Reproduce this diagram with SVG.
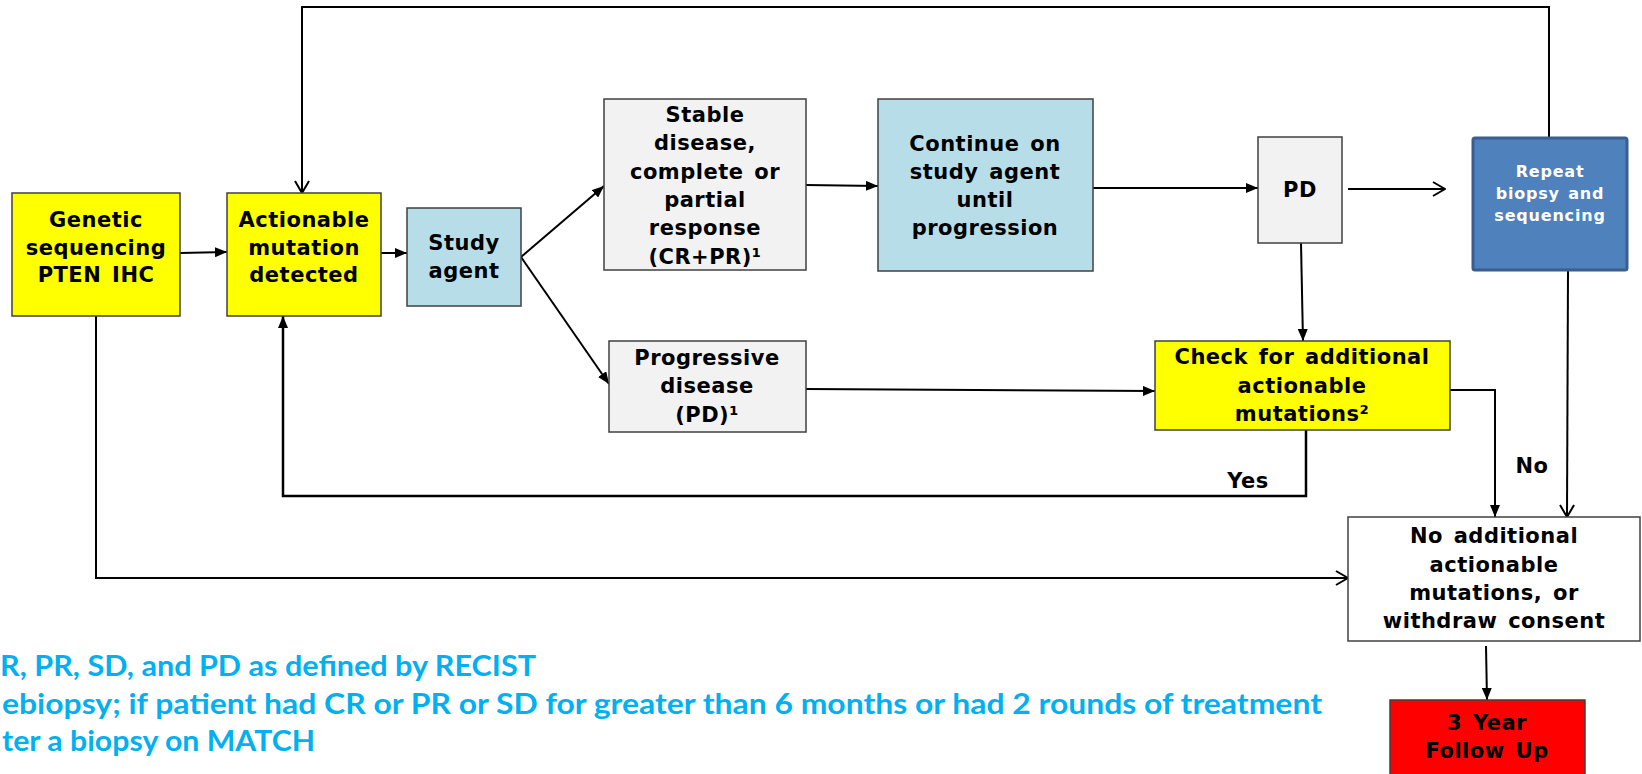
<svg xmlns="http://www.w3.org/2000/svg" width="1642" height="774" viewBox="0 0 1642 774">
<style>
.box{stroke:#404040;stroke-width:1.5}
.y{fill:#FFFF00}.b{fill:#B7DEE8}.g{fill:#F2F2F2}.w{fill:#FFFFFF}.r{fill:#FF0000}
.t{font-family:"DejaVu Sans",Verdana,sans-serif;font-weight:bold;font-size:21px;letter-spacing:0.5px;word-spacing:3px;text-anchor:middle;fill:#000}
.tw{font-family:"DejaVu Sans",Verdana,sans-serif;font-weight:bold;font-size:16px;letter-spacing:0.8px;word-spacing:2px;text-anchor:middle;fill:#FFFFFF}
.c{fill:none;stroke:#000;stroke-width:2}
.fn{font-family:Lato,"Liberation Sans",sans-serif;font-weight:bold;font-size:28px;fill:#00B0F0}
</style>
<defs>
<marker id="fa" viewBox="0 0 12 10" refX="12" refY="5" markerWidth="12" markerHeight="10" markerUnits="userSpaceOnUse" orient="auto"><path d="M0,0 L12,5 L0,10 z" fill="#000"/></marker>
<marker id="oa" viewBox="0 0 14 16" refX="13" refY="8" markerWidth="14" markerHeight="16" markerUnits="userSpaceOnUse" orient="auto"><path d="M1,1 L13,8 L1,15" fill="none" stroke="#000" stroke-width="2"/></marker>
</defs>
<rect width="1642" height="774" fill="#FFFFFF"/>

<g id="connectors">
<path class="c" d="M180,253 L227,252" marker-end="url(#fa)"/>
<path class="c" d="M381,253 L407,253" marker-end="url(#fa)"/>
<path class="c" d="M521,257 L604,186" marker-end="url(#fa)"/>
<path class="c" d="M521,257 L609,384" marker-end="url(#fa)"/>
<path class="c" d="M806,185 L878,186" marker-end="url(#fa)"/>
<path class="c" d="M1093,188 L1258,188" marker-end="url(#fa)"/>
<path class="c" d="M1348,189 L1445,189" marker-end="url(#oa)"/>
<path class="c" d="M1549,137 L1549,7 L302,7 L302,193" marker-end="url(#oa)"/>
<path class="c" d="M1301,243 L1303,341" marker-end="url(#fa)"/>
<path class="c" d="M806,389 L1155,391" marker-end="url(#fa)"/>
<path class="c" d="M1450,390 L1495,390 L1495,517" marker-end="url(#fa)"/>
<path class="c" d="M1568,271 L1567,517" marker-end="url(#oa)"/>
<path class="c" style="stroke-width:2.5" d="M1306,430 L1306,496 L283,496 L283,316" marker-end="url(#fa)"/>
<path class="c" d="M96,316 L96,578 L1348,578" marker-end="url(#oa)"/>
<path class="c" d="M1486,646 L1487,700" marker-end="url(#fa)"/>
<text class="t" x="1248" y="488">Yes</text>
<text class="t" x="1532" y="473">No</text>
</g>

<g id="genetic">
<rect class="box y" x="12" y="193" width="168" height="123"/>
<text class="t" x="96" y="227">Genetic</text>
<text class="t" x="96" y="255">sequencing</text>
<text class="t" x="96" y="282">PTEN IHC</text>
</g>

<g id="actionable">
<rect class="box y" x="227" y="193" width="154" height="123"/>
<text class="t" x="304" y="227">Actionable</text>
<text class="t" x="304" y="255">mutation</text>
<text class="t" x="304" y="282">detected</text>
</g>

<g id="study">
<rect class="box b" x="407" y="208" width="114" height="98"/>
<text class="t" x="464" y="250">Study</text>
<text class="t" x="464" y="278">agent</text>
</g>

<g id="stable">
<rect class="box g" x="604" y="99" width="202" height="171"/>
<text class="t" x="705" y="122">Stable</text>
<text class="t" x="705" y="150">disease,</text>
<text class="t" x="705" y="179">complete or</text>
<text class="t" x="705" y="207">partial</text>
<text class="t" x="705" y="235">response</text>
<text class="t" x="705" y="264">(CR+PR)¹</text>
</g>

<g id="continue">
<rect class="box b" x="878" y="99" width="215" height="172"/>
<text class="t" x="985" y="151">Continue on</text>
<text class="t" x="985" y="179">study agent</text>
<text class="t" x="985" y="207">until</text>
<text class="t" x="985" y="235">progression</text>
</g>

<g id="pd">
<rect class="box g" x="1258" y="137" width="84" height="106"/>
<text class="t" x="1300" y="197">PD</text>
</g>

<g id="repeat">
<rect x="1473" y="138" width="154" height="132" rx="2" fill="#4F81BD" stroke="#3A5F8F" stroke-width="3"/>
<text class="tw" x="1550" y="177">Repeat</text>
<text class="tw" x="1550" y="199">biopsy and</text>
<text class="tw" x="1550" y="221">sequencing</text>
</g>

<g id="progressive">
<rect class="box g" x="609" y="341" width="197" height="91"/>
<text class="t" x="707" y="365">Progressive</text>
<text class="t" x="707" y="393">disease</text>
<text class="t" x="707" y="422">(PD)¹</text>
</g>

<g id="check">
<rect class="box y" x="1155" y="341" width="295" height="89"/>
<text class="t" x="1302" y="364">Check for additional</text>
<text class="t" x="1302" y="393">actionable</text>
<text class="t" x="1302" y="421">mutations²</text>
</g>

<g id="noadditional">
<rect class="box w" x="1348" y="517" width="292" height="124"/>
<text class="t" x="1494" y="543">No additional</text>
<text class="t" x="1494" y="572">actionable</text>
<text class="t" x="1494" y="600">mutations, or</text>
<text class="t" x="1494" y="628">withdraw consent</text>
</g>

<g id="followup">
<rect class="box r" x="1390" y="700" width="195" height="80"/>
<text class="t" x="1487" y="730">3 Year</text>
<text class="t" x="1487" y="758">Follow Up</text>
</g>

<g id="footnotes">
<text class="fn" x="0" y="676" textLength="536" lengthAdjust="spacingAndGlyphs">R, PR, SD, and PD as defined by RECIST</text>
<text class="fn" x="2" y="714" textLength="1320" lengthAdjust="spacingAndGlyphs">ebiopsy; if patient had CR or PR or SD for greater than 6 months or had 2 rounds of treatment</text>
<text class="fn" x="2" y="751" textLength="313" lengthAdjust="spacingAndGlyphs">ter a biopsy on MATCH</text>
</g>
</svg>
